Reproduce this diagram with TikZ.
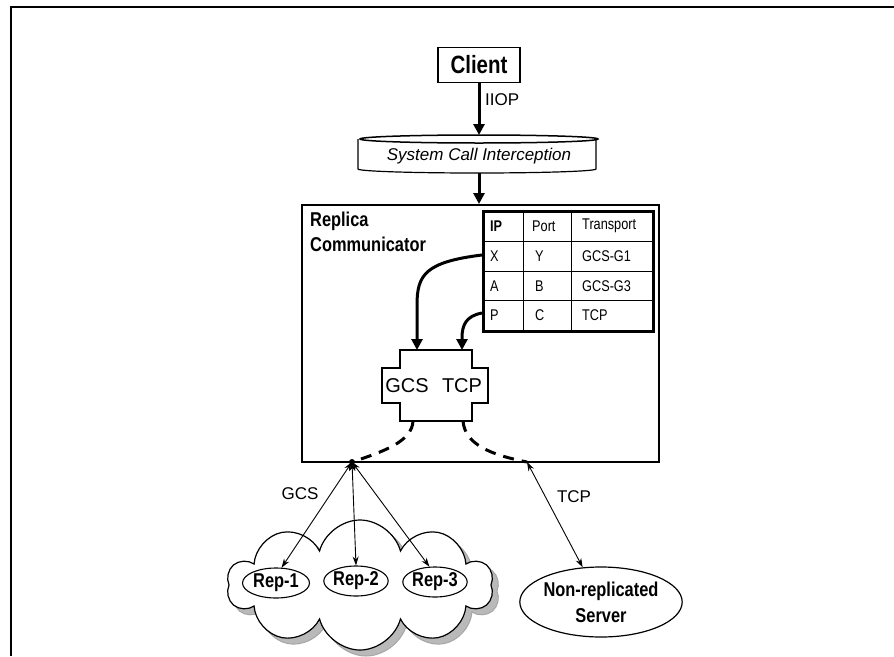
\documentclass[tikz,border=0pt]{standalone}
\usepackage{fontspec}
\setmainfont{Liberation Sans}
\newfontfamily\narrowsf{Liberation Sans}[FakeStretch=0.82]
\usetikzlibrary{shapes.symbols,shapes.geometric,arrows.meta}

\tikzset{
  boxline/.style={draw, line width=1.2pt},
  heavyarrow/.style={line width=3pt, -{Triangle[length=11pt,width=11pt]}},
  thinlink/.style={line width=0.9pt, {Stealth[length=9pt,width=6pt]}-{Stealth[length=9pt,width=6pt]}},
  dashlink/.style={line width=3pt, dash pattern=on 11pt off 8pt},
  repnode/.style={ellipse, draw, line width=1.1pt, inner sep=0pt, minimum height=30pt,
                  font=\narrowsf\bfseries\fontsize{20}{22}\selectfont},
  cellt/.style={anchor=west, inner sep=0pt, font=\narrowsf\fontsize{15.5}{17}\selectfont},
  lbl/.style={inner sep=0pt, font=\fontsize{17}{19}\selectfont},
  cloudshape/.style={cloud, cloud puffs=10, aspect=1.9, minimum width=266pt, minimum height=130pt, inner sep=0pt},
}

\begin{document}
\begin{tikzpicture}[x=1pt,y=-1pt]
\useasboundingbox (0,0) rectangle (894,656);
\fill[white] (0,0) rectangle (894,656);

% outer frame (top and left edges)
\draw[line width=2pt] (11,656) -- (11,7) -- (894,7);

% client
\node[boxline, minimum width=82pt, minimum height=35pt, inner sep=0pt,
      font=\narrowsf\bfseries\fontsize{25}{27}\selectfont] (client) at (479,65) {Client};

% system call interception disc
\coordinate (sciTop) at (479,135);
\coordinate (sciBot) at (479,173);
\draw[line width=1.2pt, fill=white] (358,139) -- (358,169) arc[start angle=180, end angle=360, x radius=119pt, y radius=4pt] -- (596,139);
\draw[line width=1.5pt, fill=white] (479,139) ellipse[x radius=119pt, y radius=4pt];
\node[inner sep=0pt, font=\itshape\fontsize{17}{19}\selectfont] (sci) at (479,156) {System Call Interception};

\draw[heavyarrow] (client.south) -- (sciTop);
\node[lbl, anchor=west] (iiop) at (485,100) {IIOP};

% replica communicator
\node[draw, line width=1.5pt, minimum width=357pt, minimum height=257pt, inner sep=0pt,
      anchor=north west] (rc) at (301,204) {};
\draw[heavyarrow] (sciBot) -- (rc.north -| sciBot);
\node[anchor=north west, align=left, inner sep=0pt,
      font=\narrowsf\bfseries\fontsize{20}{25}\selectfont] (rctitle) at (310,212) {Replica\\Communicator};

% routing table
\node[draw, line width=3pt, minimum width=170pt, minimum height=120pt, inner sep=0pt,
      anchor=north west] (tab) at (482,210) {};
\draw[line width=1pt] (523,210) -- (523,330) (571,210) -- (571,330)
  (482,241) -- (652,241) (482,271) -- (652,271) (482,300) -- (652,300);
\node[cellt, font=\narrowsf\bfseries\fontsize{15.5}{17}\selectfont] (h1) at (490,226) {IP};
\node[cellt] (h2) at (532,226) {Port};
\node[cellt] (h3) at (582,226) {Transport};
\node[cellt] (a1) at (490,256) {X};
\node[cellt] (a2) at (535,256) {Y};
\node[cellt] (a3) at (582,256) {GCS-G1};
\node[cellt] (b1) at (490,286) {A};
\node[cellt] (b2) at (535,286) {B};
\node[cellt] (b3) at (582,286) {GCS-G3};
\node[cellt] (c1) at (490,315) {P};
\node[cellt] (c2) at (535,315) {C};
\node[cellt] (c3) at (582,315) {TCP};

% transport plug
\draw[line width=1.2pt, fill=white] (400,350) -- (472,350) -- (472,368) -- (488,368) -- (488,403)
  -- (472,403) -- (472,421) -- (400,421) -- (400,403) -- (382,403) -- (382,368) -- (400,368) -- cycle;
\node[inner sep=0pt, font=\fontsize{20}{22}\selectfont] (gcs) at (407,386) {GCS};
\node[inner sep=0pt, font=\fontsize{20}{22}\selectfont] (tcp) at (462,386) {TCP};
\coordinate (gcsIn) at (417,350);
\coordinate (tcpIn) at (462,350);
\coordinate (gcsOut) at (413,421);
\coordinate (tcpOut) at (463,421);

\coordinate (rowX) at (482,255);
\coordinate (rowP) at (482,313);
\draw[heavyarrow] (rowX) .. controls (425,262) and (417,275) .. (417,305) -- (gcsIn);
\draw[heavyarrow] (rowP) .. controls (466,316) and (462,325) .. (462,338) -- (tcpIn);

% exits on the box edge
\coordinate (hub) at (352,462);
\coordinate (tcpend) at (527,462);
\draw[dashlink] (gcsOut) .. controls (412,442) and (382,452) .. (hub);
\draw[dashlink] (tcpOut) .. controls (465,445) and (492,455) .. (tcpend);

% replica group cloud with its shadow
\node[cloudshape, fill=gray!55, draw=gray!70, line width=1pt] (cloudsh) at (366,591) {};
\node[cloudshape, fill=white, draw, line width=1.2pt] (cloud) at (360,585) {};

\node[repnode, minimum width=67pt] (rep1) at (276,583) {Rep-1};
\node[repnode, minimum width=58pt] (rep2) at (356,581) {Rep-2};
\node[repnode, minimum width=64pt] (rep3) at (435,582) {Rep-3};

\draw[thinlink] (hub) -- (rep1.70);
\draw[thinlink] (hub) -- (rep2.north);
\draw[thinlink] (hub) -- (rep3.110);
\fill (hub) circle[radius=3pt];

% non-replicated server
\node[ellipse, draw, line width=1.2pt, minimum width=158pt, minimum height=70pt, inner sep=0pt,
      align=center, font=\narrowsf\bfseries\fontsize{20}{26}\selectfont] (nonrep) at (601,602)
      {Non-replicated\\Server};
\draw[thinlink] (tcpend) -- (nonrep);

\node[lbl] (gcslbl) at (300,494) {GCS};
\node[lbl] (tcplbl) at (574,497) {TCP};
\end{tikzpicture}
\end{document}
